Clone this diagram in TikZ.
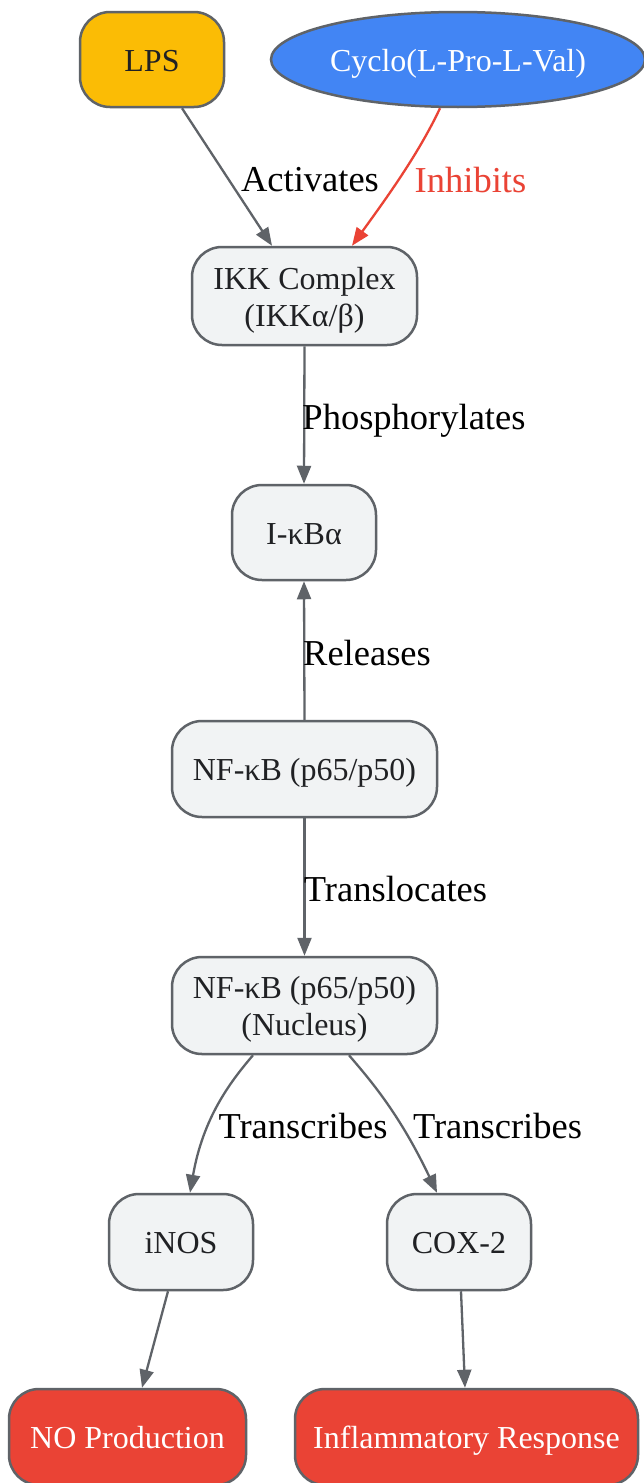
\documentclass[tikz,border=0pt]{standalone}
\usepackage{fontspec}
\setmainfont{Liberation Serif}
\usetikzlibrary{arrows.meta,shapes.geometric,calc}
\definecolor{edgegray}{HTML}{5F6368}
\definecolor{nodefill}{HTML}{F1F3F4}
\definecolor{txtdark}{HTML}{202124}
\definecolor{gyellow}{HTML}{FBBC05}
\definecolor{gblue}{HTML}{4285F4}
\definecolor{gred}{HTML}{EA4335}
\newcommand{\lnstrut}{\rule[-7pt]{0pt}{37pt}}
\tikzset{
  box/.style={draw=edgegray, line width=2.5pt, rounded corners=30pt, fill=nodefill,
    text=txtdark, align=center, minimum width=144pt, minimum height=95pt, inner sep=0pt,
    font=\fontsize{32}{37}\selectfont},
  redbox/.style={box, fill=gred, text=white},
  conn/.style={draw=edgegray, line width=2.3pt, -{Triangle[length=18pt,width=14pt]}},
  inh/.style={draw=gred, line width=2.3pt, -{Triangle[length=18pt,width=14pt]}},
  elabel/.style={font=\fontsize{36.5}{40}\selectfont, inner sep=0pt, text=black},
}
\begin{document}
\begin{tikzpicture}[x=1pt,y=-1pt]
\clip (0,0) rectangle (644,1483);
\fill[white] (0,0) rectangle (644,1483);
% nodes
\node[box, fill=gyellow] (lps) at (152,59.5) {\lnstrut LPS};
\node[ellipse, draw=edgegray, line width=2.5pt, fill=gblue, text=white,
  minimum width=374pt, minimum height=95pt, inner sep=0pt,
  font=\fontsize{32}{37}\selectfont] (cyc) at (458,59.5) {\lnstrut Cyclo(L-Pro-L-Val)};
\node[box, minimum width=225pt, minimum height=98pt] (ikk) at (304.5,296) {\lnstrut IKK Complex\\\lnstrut (IKKα/β)};
\node[box] (ikb) at (304,532.5) {\lnstrut I-κBα};
\node[box, minimum width=265pt, minimum height=96pt] (nfkb) at (304.5,769) {\lnstrut NF-κB (p65/p50)};
\node[box, minimum width=265pt, minimum height=97pt] (nuc) at (304.5,1005.5) {\lnstrut NF-κB (p65/p50)\\\lnstrut (Nucleus)};
\node[box, minimum height=96pt] (inos) at (181,1242) {\lnstrut iNOS};
\node[box, minimum height=96pt] (cox) at (459,1242) {\lnstrut COX-2};
\node[redbox, minimum width=237pt, minimum height=96pt] (no) at (127.5,1437) {\lnstrut NO Production};
\node[redbox, minimum width=343pt, minimum height=96pt] (infl) at (466.5,1437) {\lnstrut Inflammatory Response};
% edges
\draw[conn] ($(lps.south)+(30,0)$) -- ($(ikk.north)+(-32.5,0)$);
\draw[inh] ($(cyc.south)+(-18,0)$) .. controls (418,155) and (385,200) .. ($(ikk.north)+(47.5,0)$);
\draw[conn] (ikk.south) -- (ikb.north);
\draw[conn] (nfkb.north) -- (ikb.south);
\draw[conn] (nfkb.south) -- (nuc.north);
\draw[conn] ($(nuc.south)+(-51.5,0)$) .. controls (230,1082) and (203,1118) .. ($(inos.north)+(9,0)$);
\draw[conn] ($(nuc.south)+(44.5,0)$) .. controls (372,1082) and (400,1115) .. ($(cox.north)+(-22,0)$);
\draw[conn] ($(inos.south)+(-13,0)$) -- ($(no.north)+(14.5,0)$);
\draw[conn] ($(cox.south)+(2,0)$) -- ($(infl.north)+(-1.5,0)$);
% labels
\node[elabel] (l1) at (310,180) {Activates};
\node[elabel, text=gred] (l2) at (470.5,180) {Inhibits};
\node[elabel] (l3) at (414,421) {Phosphorylates};
\node[elabel] (l4) at (367,653) {Releases};
\node[elabel] (l5) at (395.5,889) {Translocates};
\node[elabel] (l6) at (303,1126) {Transcribes};
\node[elabel] (l7) at (497.5,1126) {Transcribes};
\end{tikzpicture}
\end{document}
